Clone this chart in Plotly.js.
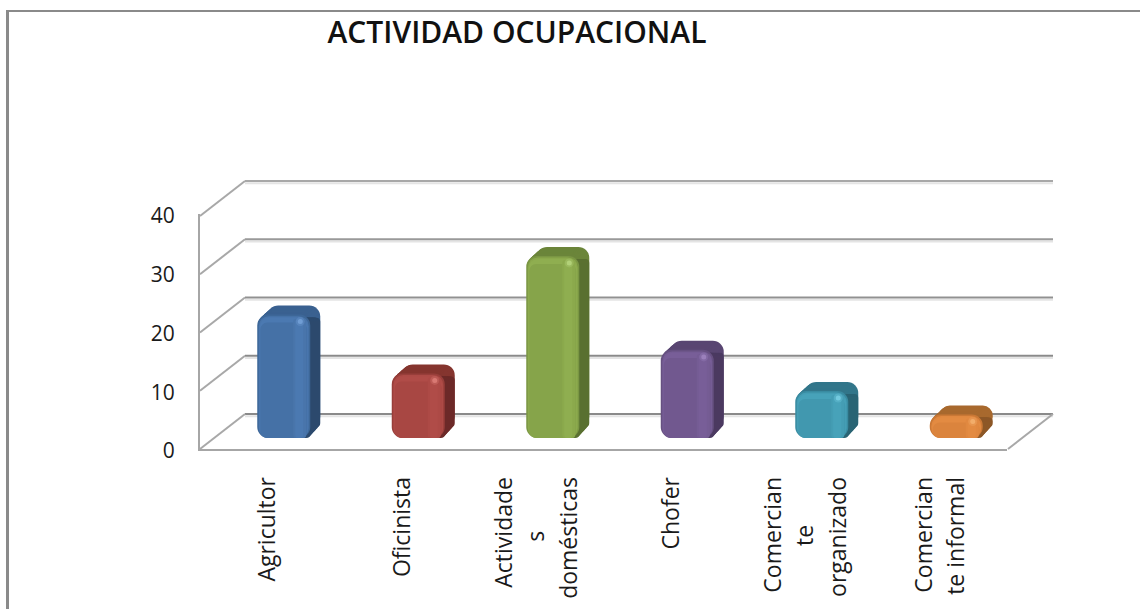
<!DOCTYPE html>
<html>
<head>
<meta charset="utf-8">
<script src="https://cdn.plot.ly/plotly-3.0.1.min.js"></script>
<style>html,body{margin:0;padding:0;background:#fff}#chart{width:1140px;height:609px}</style>
</head>
<body>
<div id="chart"></div>
<script>
const titleText = "ACTIVIDAD OCUPACIONAL";
const categories = ["Agricultor", "Oficinista", "Actividades domésticas", "Chofer", "Comerciante organizado", "Comerciante informal"];
const tickLines = [["Agricultor"], ["Oficinista"], ["Actividade", "s", "domésticas"], ["Chofer"], ["Comercian", "te", "organizado"], ["Comercian", "te informal"]];
const values = [21, 11, 31, 15, 8, 4];
const yTicks = [0, 10, 20, 30, 40];
const gridGreys = ["#8a8a8a", "#8a8a8a", "#919191", "#999999", "#a8a8a8"];

const faceColors  = ["#4571a6", "#a84743", "#86a44a", "#71588f", "#4198af", "#db843d"];
const edgeColors  = ["#3d6798", "#983e3a", "#7a9643", "#665081", "#398ba1", "#ca7835"];
const softColors  = ["#4975ab", "#ad4a46", "#8ba94c", "#755c94", "#449db4", "#e08840"];
const lightColors = ["#4b79b1", "#b04c48", "#8fae50", "#785e98", "#47a2b9", "#e38b42"];
const topColors   = ["#3a6190", "#85352f", "#6b853a", "#594672", "#32768a", "#a8692e"];
const sideColors  = ["#2c4a6e", "#6c2a28", "#5a7031", "#4b3a61", "#2a6474", "#8c5727"];
const spotColors  = ["#7aa8de", "#e58680", "#bcdc84", "#a58ac6", "#80d6ea", "#f7b676"];

const W = 1140, H = 609;
const FRONT = {l: 200, r: 1007, t: 214, b: 449};
const BACK  = {l: 245, r: 1053, t: 181, b: 414};
const FLOOR = {l: 190, r: 1062, t: 174, b: 456};
const PX = (FRONT.r - FRONT.l) / 6, PY = (FRONT.b - FRONT.t) / 40;
const BPX = (BACK.r - BACK.l) / 6, BPY = (BACK.b - BACK.t) / 40;
const idx = categories.map((_, i) => i);
const DX = (BACK.l - FRONT.l) / BPX, DY = (FRONT.b - BACK.b) / BPY;

function wallLine(x, y, color, width) {
  return {type: "scatter", mode: "lines", x, y, line: {color, width},
          hoverinfo: "skip", showlegend: false};
}
function barLayer(colors, leftPx, widthPx, basePx, topPx, radius) {
  return {
    type: "bar", x: idx, y: values.map(v => v + (topPx - basePx) / PY),
    base: basePx / PY, width: widthPx / PX, offset: leftPx / PX,
    marker: {color: colors, cornerradius: radius, line: {width: 0}},
    xaxis: "x2", yaxis: "y2", cliponaxis: false, hoverinfo: "skip", showlegend: false
  };
}

const traces = [];
yTicks.forEach((t, i) => {
  traces.push(wallLine([-0.5, 5.5], [t - 2.3 / BPY, t - 2.3 / BPY], "#e4e4e4", 2));
  traces.push(wallLine([-0.5, 5.5], [t, t], gridGreys[i], 2));
  traces.push(wallLine([-0.5, -0.5 - DX], [t, t - DY], gridGreys[4], 2));
});
traces.push(wallLine([5.5, 5.5 - DX], [0, -DY], gridGreys[4], 2));

const LEFT = -10, WIDTH = 53, BASE = 11, STEPS = 10;
for (let k = STEPS; k >= 1; k--) {
  traces.push(barLayer(topColors, LEFT + k, WIDTH, BASE + k * 1.1, BASE + k * 0.9, 11));
}
for (let k = STEPS; k >= 0; k--) {
  traces.push(barLayer(sideColors, LEFT + WIDTH - 9 + k, 9, BASE + k * 1.1, BASE - 3, 5));
}
traces.push(barLayer(edgeColors, LEFT, WIDTH, BASE, BASE, 11));
traces.push(barLayer(softColors, LEFT + 1.5, WIDTH - 3, BASE, BASE - 1.5, 10));
traces.push(barLayer(lightColors, LEFT + 2.5, WIDTH - 5, BASE, BASE - 3, 9));
traces.push(barLayer(faceColors, LEFT + 3, WIDTH - 6, BASE, BASE - 8, 7));
traces.push(barLayer(softColors, LEFT + 36, 13, BASE, BASE - 4, 3));
traces.push(barLayer(lightColors, LEFT + 38, 8, BASE, BASE - 4, 3));
[[9, 0.25], [5, 0.7]].forEach(([size, opacity]) => {
  traces.push({type: "scatter", mode: "markers", x: idx.map(i => i + (LEFT + 43) / PX),
    y: values.map(v => v + (BASE - 7) / PY),
    marker: {color: spotColors, size, opacity, line: {width: 0}},
    xaxis: "x2", yaxis: "y2", cliponaxis: false, hoverinfo: "skip", showlegend: false});
});

const labelFont = "Open Sans, sans-serif";
const labelPx = 23;
function tickLabel(lines) {
  const longest = Math.max(...lines.map(s => s.length));
  return lines.map(s => {
    const gap = longest - s.length;
    const pad = gap > 3 ? "\u00a0".repeat(Math.round(gap * 0.95)) : "";
    return `<span style="font-size:${labelPx}px">${s}${pad}</span>`;
  }).join("<br>");
}
const layout = {
  width: W, height: H, margin: {l: 0, r: 0, t: 0, b: 0, pad: 0},
  paper_bgcolor: "#fff", plot_bgcolor: "rgba(0,0,0,0)", showlegend: false, barmode: "overlay",
  title: {text: titleText, x: 517 / W, xanchor: "center", y: 1 - 32 / H, yanchor: "middle",
          font: {family: labelFont, size: 30, color: "#111", weight: 600}},
  xaxis: {domain: [FLOOR.l / W, FLOOR.r / W],
          range: [-0.5 - (BACK.l - FLOOR.l) / BPX, 5.5 + (FLOOR.r - BACK.r) / BPX],
          showgrid: false, showline: false, zeroline: false, showticklabels: false, ticks: "", anchor: "y"},
  yaxis: {domain: [1 - FLOOR.b / H, 1 - FLOOR.t / H],
          range: [-(FLOOR.b - BACK.b) / BPY, 40 + (BACK.t - FLOOR.t) / BPY],
          showgrid: false, showline: false, zeroline: false, showticklabels: false, ticks: "", anchor: "x"},
  xaxis2: {domain: [FRONT.l / W, FRONT.r / W], range: [-0.5, 5.5], anchor: "y2", showgrid: false,
           zeroline: false, showline: true, linecolor: "#a6a6a6", linewidth: 2, tickmode: "array",
           tickvals: idx, tickangle: -90, ticks: "", ticklabelstandoff: 16,
           ticktext: tickLines.map(tickLabel),
           tickfont: {family: labelFont, size: 25, color: "#1a1a1a"}},
  yaxis2: {domain: [1 - FRONT.b / H, 1 - FRONT.t / H], range: [0, 40], anchor: "x2", showgrid: false,
           zeroline: false, showline: true, linecolor: "#a6a6a6", linewidth: 2, tickvals: yTicks,
           ticks: "", ticklabelstandoff: 19, ticklabelshift: 2,
           tickfont: {family: labelFont, size: 21, color: "#1a1a1a"}},
  shapes: [
    {type: "line", xref: "paper", yref: "paper", x0: 6 / W, x1: 1, y0: 1 - 11 / H, y1: 1 - 11 / H,
     line: {color: "#8a8a8a", width: 2}},
    {type: "line", xref: "paper", yref: "paper", x0: 7.5 / W, x1: 7.5 / W, y0: 0, y1: 1 - 10 / H,
     line: {color: "#8a8a8a", width: 3}}
  ]
};
Plotly.newPlot("chart", traces, layout, {displayModeBar: false, staticPlot: true});
</script>
</body>
</html>
